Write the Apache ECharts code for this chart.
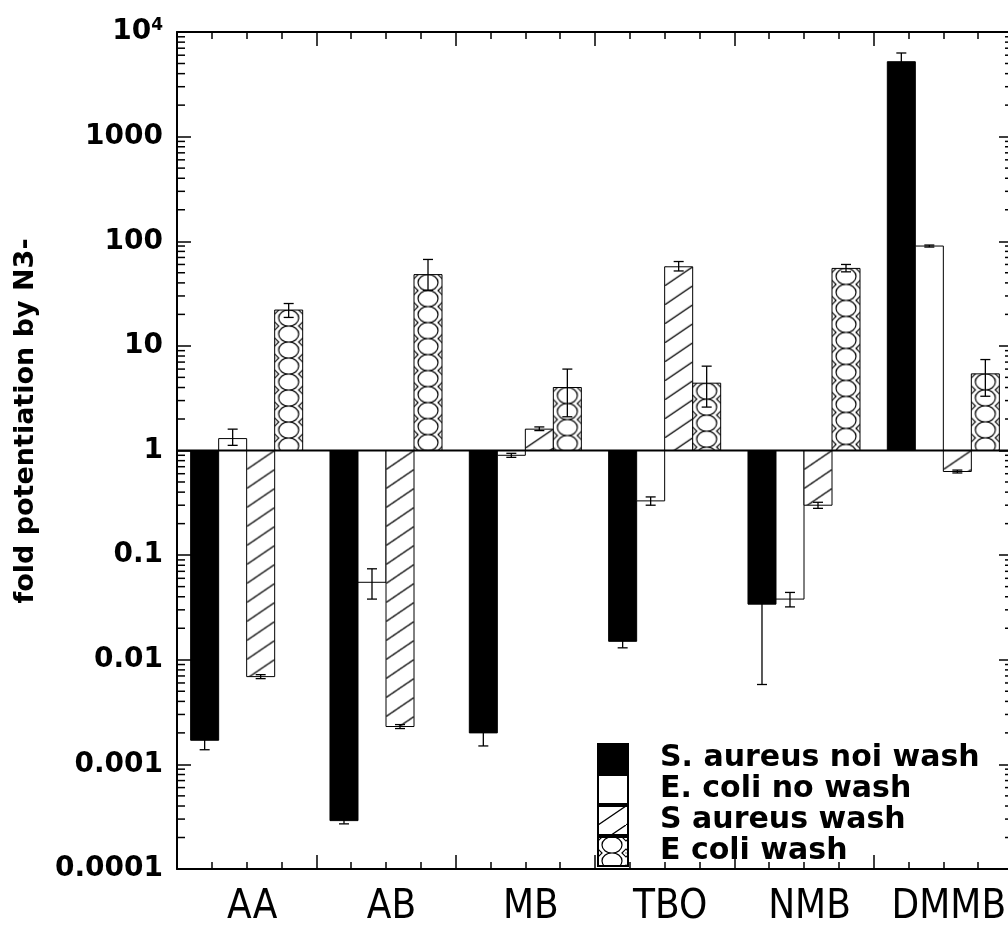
<!DOCTYPE html>
<html>
<head>
<meta charset="utf-8">
<script src="https://cdn.jsdelivr.net/npm/echarts@6/dist/echarts.min.js"></script>
<style>
  html, body { margin: 0; padding: 0; background: #fff; }
  #chart { width: 1008px; height: 939px; }
</style>
</head>
<body>
<div id="chart"></div>
<script>
// categories and series
const categories = ["AA", "AB", "MB", "TBO", "NMB", "DMMB"];
const seriesNames = ["S. aureus noi wash", "E. coli no wash", "S aureus wash", "E coli wash"];

// bar values (bars grow from 1 on the log axis)
const saureusNoWash = [0.0017, 0.00029, 0.0020, 0.015, 0.034, 5200];
const ecoliNoWash   = [1.3, 0.055, 0.9, 0.33, 0.038, 90];
const saureusWash   = [0.0069, 0.0023, 1.6, 57, 0.30, 0.63];
const ecoliWash     = [22, 48, 4.0, 4.4, 55, 5.4];

// error bar ends
const saureusNoWashLow  = [0.00138, 0.00027, 0.0015, 0.013, 0.0058, 4300];
const saureusNoWashHigh = [0.0021, 0.00031, 0.0026, 0.017, 0.062, 6300];
const ecoliNoWashLow    = [1.12, 0.038, 0.86, 0.30, 0.032, 88];
const ecoliNoWashHigh   = [1.6, 0.074, 0.94, 0.36, 0.044, 92];
const saureusWashLow    = [0.0066, 0.0022, 1.55, 52, 0.28, 0.61];
const saureusWashHigh   = [0.0072, 0.0024, 1.68, 64, 0.32, 0.65];
const ecoliWashLow      = [18.7, 34, 2.1, 2.6, 51, 3.3];
const ecoliWashHigh     = [25.4, 67, 6.0, 6.4, 60, 7.4];

// y axis ticks
const yTickValues = [0.0001, 0.001, 0.01, 0.1, 1, 10, 100, 1000, 10000];
const yTickLabels = ["0.0001", "0.001", "0.01", "0.1", "1", "10", "100", "1000", "10^4"];

const values = [saureusNoWash, ecoliNoWash, saureusWash, ecoliWash];
const lows = [saureusNoWashLow, ecoliNoWashLow, saureusWashLow, ecoliWashLow];
const highs = [saureusNoWashHigh, ecoliNoWashHigh, saureusWashHigh, ecoliWashHigh];

// minor log ticks 2..9 in every decade
const minorTicks = [];
for (let k = 0; k < yTickValues.length - 1; k++) {
  for (let m = 2; m <= 9; m++) minorTicks.push([0, m * yTickValues[k]]);
}

//填充图案
function hatchTile() {
  const c = document.createElement("canvas");
  c.width = 28; c.height = 19;
  const g = c.getContext("2d");
  g.fillStyle = "#fff"; g.fillRect(0, 0, 28, 19);
  g.strokeStyle = "#000"; g.lineWidth = 1.3;
  g.beginPath(); g.moveTo(-28, 38); g.lineTo(56, -19); g.stroke();
  return c;
}
function circleTile() {
  const c = document.createElement("canvas");
  c.width = 28; c.height = 16;
  const g = c.getContext("2d");
  g.fillStyle = "#fff"; g.fillRect(0, 0, 28, 16);
  g.strokeStyle = "#000"; g.lineWidth = 1.2;
  g.beginPath(); g.ellipse(14, 8, 10, 8, 0, 0, Math.PI * 2); g.stroke();
  [[0, 0], [28, 0], [0, 16], [28, 16]].forEach(function (p) {
    g.beginPath();
    g.moveTo(p[0] - 4, p[1]); g.lineTo(p[0], p[1] - 4);
    g.lineTo(p[0] + 4, p[1]); g.lineTo(p[0], p[1] + 4); g.closePath();
    g.stroke();
    g.fillStyle = "#000"; g.fillRect(p[0] - 0.5, p[1] - 0.5, 1, 1);
  });
  return c;
}
const tiles = [null, null, hatchTile(), circleTile()];
const plainFill = ["#000", "#fff"];

function fillFor(s, x, y) {
  if (tiles[s]) return { image: tiles[s], repeat: "repeat", x: x, y: y };
  return plainFill[s];
}

function bandInfo(api) {
  const band = api.coord([1, 1])[0] - api.coord([0, 1])[0];
  return band * 0.201;
}

function barRenderer(s) {
  return function (params, api) {
    const i = api.value(0);
    const v = api.value(1);
    const top = api.coord([i, v]);
    const base = api.coord([i, 1]);
    const w = bandInfo(api);
    const x0 = top[0] - 2 * w + s * w;
    const y0 = Math.min(top[1], base[1]);
    const h = Math.abs(top[1] - base[1]);
    return {
      type: "rect",
      shape: { x: x0, y: y0, width: w, height: h },
      style: { fill: fillFor(s, x0, y0), stroke: "#000", lineWidth: 1 }
    };
  };
}

const barSeries = seriesNames.map(function (name, s) {
  return {
    name: name,
    type: "custom",
    xAxisIndex: 0,
    yAxisIndex: 0,
    renderItem: barRenderer(s),
    encode: { x: 0, y: 1 },
    itemStyle: { color: fillFor(s, 0, 0), borderColor: "#000", borderWidth: 1 },
    data: categories.map(function (c, i) { return [i, values[s][i]]; }),
    z: 2
  };
});

const errData = [];
for (let s = 0; s < 4; s++) {
  for (let i = 0; i < categories.length; i++) errData.push([i, lows[s][i], highs[s][i], s]);
}

const chartDom = document.getElementById("chart");
const myChart = echarts.init(chartDom);

const option = {
  animation: false,
  backgroundColor: "#fff",
  grid: [
    { left: 177, right: -5, top: 32, bottom: 70, outerBoundsMode: "none" },
    { left: 177, right: -5, top: 32, bottom: 70, outerBoundsMode: "none" }
  ],
  legend: {
    data: seriesNames,
    orient: "vertical",
    left: 597,
    top: 743,
    padding: 0,
    itemWidth: 30,
    itemHeight: 29,
    itemGap: 0,
    icon: "rect",
    selectedMode: false,
    textStyle: {
      fontFamily: "DejaVu Sans",
      fontWeight: "bold",
      fontSize: 30,
      lineHeight: 29,
      color: "#000",
      padding: [0, 0, 0, 27]
    }
  },
  xAxis: [
    {
      type: "category",
      gridIndex: 0,
      position: "bottom",
      data: categories,
      axisLine: { lineStyle: { color: "#000", width: 2 } },
      axisTick: { show: false },
      axisLabel: {
        interval: 0,
        fontFamily: "Liberation Sans Narrow, DejaVu Sans Condensed, Arial Narrow, sans-serif",
        fontSize: 40,
        color: "#000",
        margin: 19,
        padding: [0, 0, 0, 11]
      },
      splitLine: { show: false }
    },
    {
      type: "value",
      gridIndex: 0,
      position: "top",
      min: 0, max: 6, interval: 1,
      axisLine: { lineStyle: { color: "#000", width: 2 } },
      axisTick: { inside: true, length: 14, lineStyle: { color: "#000", width: 1.5 } },
      minorTick: { show: true, splitNumber: 4, length: 7, lineStyle: { color: "#000", width: 1.5 } },
      axisLabel: { show: false },
      splitLine: { show: false }
    },
    {
      type: "value",
      gridIndex: 1,
      position: "bottom",
      min: 0, max: 6, interval: 1,
      axisLine: { show: false },
      axisTick: { inside: true, length: 14, lineStyle: { color: "#000", width: 1.5 } },
      minorTick: { show: true, splitNumber: 4, length: 7, lineStyle: { color: "#000", width: 1.5 } },
      axisLabel: { show: false },
      splitLine: { show: false }
    }
  ],
  yAxis: [
    {
      type: "log",
      gridIndex: 0,
      position: "left",
      logBase: 10,
      min: 0.0001,
      max: 10000,
      splitNumber: 8,
      axisLine: { show: true, lineStyle: { color: "#000", width: 2 } },
      axisTick: { inside: true, length: 14, lineStyle: { color: "#000", width: 1.5 } },
      axisLabel: {
        margin: 14,
        color: "#000",
        fontFamily: "DejaVu Sans",
        fontWeight: "bold",
        fontSize: 28,
        formatter: function (v) {
          const e = Math.round(Math.log10(v));
          const t = yTickLabels[e + 4];
          if (t === "10^4") return "{a|10}{s|4}";
          return t;
        },
        rich: {
          a: { fontFamily: "DejaVu Sans", fontWeight: "bold", fontSize: 28, lineHeight: 30, color: "#000" },
          s: { fontFamily: "DejaVu Sans", fontWeight: "bold", fontSize: 17, lineHeight: 17, verticalAlign: "top", color: "#000" }
        }
      },
      splitLine: { show: false }
    },
    {
      type: "log",
      gridIndex: 0,
      position: "right",
      logBase: 10,
      min: 0.0001,
      max: 10000,
      splitNumber: 8,
      axisLine: { show: true, lineStyle: { color: "#000", width: 2 } },
      axisTick: { inside: true, length: 14, lineStyle: { color: "#000", width: 1.5 } },
      axisLabel: { show: false },
      splitLine: { show: false }
    },
    {
      type: "value",
      gridIndex: 1,
      show: false
    }
  ],
  series: barSeries.concat([
    {
      //误差线
      name: "errors",
      type: "custom",
      xAxisIndex: 0,
      yAxisIndex: 0,
      silent: true,
      z: 4,
      encode: { x: 0, y: [1, 2] },
      data: errData,
      renderItem: function (params, api) {
        const i = api.value(0);
        const s = api.value(3);
        const p0 = api.coord([i, api.value(1)]);
        const p1 = api.coord([i, api.value(2)]);
        const w = bandInfo(api);
        const xc = p0[0] + (s - 1.5) * w;
        const st = { stroke: "#000", lineWidth: 1.3 };
        return {
          type: "group",
          children: [
            { type: "line", shape: { x1: xc, y1: p0[1], x2: xc, y2: p1[1] }, style: st },
            { type: "line", shape: { x1: xc - 5, y1: p0[1], x2: xc + 5, y2: p0[1] }, style: st },
            { type: "line", shape: { x1: xc - 5, y1: p1[1], x2: xc + 5, y2: p1[1] }, style: st }
          ]
        };
      }
    },
    {
      //基线 y = 1
      name: "baseline",
      type: "custom",
      xAxisIndex: 0,
      yAxisIndex: 0,
      silent: true,
      z: 5,
      encode: { x: 0, y: 1 },
      data: [[0, 1]],
      renderItem: function (params, api) {
        const cs = params.coordSys;
        const y = api.coord([0, api.value(1)])[1];
        return {
          type: "line",
          shape: { x1: cs.x, y1: y, x2: cs.x + cs.width, y2: y },
          style: { stroke: "#000", lineWidth: 2 }
        };
      }
    },
    {
      //次刻度
      name: "minorTicks",
      type: "custom",
      xAxisIndex: 0,
      yAxisIndex: 0,
      silent: true,
      z: 5,
      encode: { x: 0, y: 1 },
      data: minorTicks,
      renderItem: function (params, api) {
        const cs = params.coordSys;
        const y = api.coord([0, api.value(1)])[1];
        const st = { stroke: "#000", lineWidth: 1.5 };
        return {
          type: "group",
          children: [
            { type: "line", shape: { x1: cs.x, y1: y, x2: cs.x + 8, y2: y }, style: st },
            { type: "line", shape: { x1: cs.x + cs.width - 8, y1: y, x2: cs.x + cs.width, y2: y }, style: st }
          ]
        };
      }
    }
  ]),
  graphic: [
    {
      type: "text",
      x: 26,
      y: 421,
      rotation: Math.PI / 2,
      style: {
        text: "fold potentiation by N3-",
        fontFamily: "DejaVu Sans",
        fontWeight: "bold",
        fontSize: 27,
        fill: "#000",
        align: "center",
        verticalAlign: "middle"
      }
    }
  ]
};

myChart.setOption(option);
</script>
</body>
</html>
